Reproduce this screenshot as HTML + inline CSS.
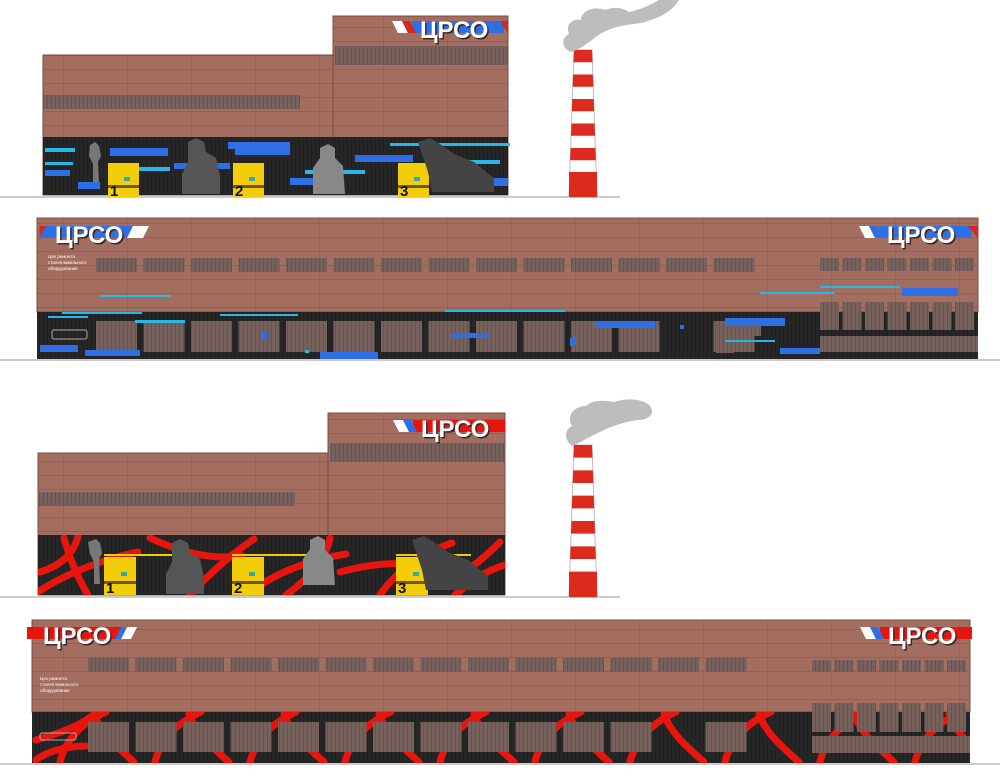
<!DOCTYPE html>
<html><head><meta charset="utf-8"><style>
html,body{margin:0;padding:0;background:#fff;width:1000px;height:784px;overflow:hidden}
svg{display:block}
.lg{font-family:"Liberation Sans","DejaVu Sans",sans-serif;font-weight:bold;fill:#fff}
</style></head><body>
<svg id="s" width="1000" height="784" viewBox="0 0 1000 784" xmlns="http://www.w3.org/2000/svg">
<defs>
<pattern id="pb" width="64" height="14" patternUnits="userSpaceOnUse"><rect width="64" height="14" fill="#a36d5f"/><rect y="13" width="64" height="1" fill="#93604f"/><rect x="63" width="1" height="14" fill="#946052" opacity=".5"/></pattern>
<pattern id="pw" width="4" height="14" patternUnits="userSpaceOnUse"><rect width="4" height="14" fill="#76615c"/><rect x="3" width="1" height="14" fill="#67544f"/></pattern>
<pattern id="pd" width="4" height="10" patternUnits="userSpaceOnUse"><rect width="4" height="10" fill="#262626"/><rect x="3" width="1" height="10" fill="#202020"/></pattern>
<clipPath id="c3"><rect x="38" y="535" width="467" height="60"/></clipPath>
<clipPath id="c4"><rect x="32" y="712" width="938" height="51"/></clipPath>
</defs>
<g id="g"></g>
</svg>
<script>
var g=document.getElementById('g'),h='';
function R(x,y,w,hh,f,ex){h+='<rect x="'+x+'" y="'+y+'" width="'+w+'" height="'+hh+'" fill="'+f+'" '+(ex||'')+'/>';}
function P(d,f,ex){h+='<path d="'+d+'" fill="'+f+'" '+(ex||'')+'/>';}
function T(x,y,s,t,ex){h+='<text x="'+x+'" y="'+y+'" font-size="'+s+'" '+(ex||'class="lg"')+'>'+t+'</text>';}
function logo(x,y,bar,ss,left){
  var w=74;
  if(left){R(x-16,y-17,w+28,12,bar);P('M'+(x+w+10)+' '+(y-17)+'l10 0l-6 12l-10 0z','#fff');P('M'+(x+w+4)+' '+(y-17)+'l6 0l-6 12l-6 0z',ss);}
  else{R(x-8,y-17,w+18,12,bar);P('M'+(x-28)+' '+(y-17)+'l10 0l6 12l-10 0z','#fff');P('M'+(x-18)+' '+(y-17)+'l8 0l6 12l-8 0z',ss);}
  T(x+1.5,y+1.5,24,'ЦРСО','font-family="Liberation Sans,sans-serif" font-weight="bold" fill="#3a2a2a"');
  T(x,y,24,'ЦРСО');
}
function chimney(x,top,bot){
  P('M'+(x+5)+' '+top+'L'+(x+23)+' '+top+'L'+(x+28)+' '+bot+'L'+x+' '+bot+'z','#fff','stroke="#bbb" stroke-width="1"');
  var n=6,seg=(bot-top)/n;
  for(var i=0;i<n;i++){var y=top+i*seg;var k=(y-top)/(bot-top);P('M'+(x+5-5*k)+' '+y+'l'+(18+10*k)+' 0l0.5 '+(seg*0.5)+'l-'+(19+10*k)+' 0z','#dc2a1e');}
  R(x,bot-25,28,25,'#dc2a1e');
}
function fac(x0,y0,x1,xm,ym,y1,yd,winL,winT){
  R(x0,y0,xm-x0,y1-y0,'url(#pb)','stroke="#7a4c42" stroke-width="1"');
  R(xm,ym,x1-xm,y1-ym,'url(#pb)','stroke="#7a4c42" stroke-width="1"');
  R(x0,winL,257,14,'url(#pw)');
  R(xm+2,winT,x1-xm-2,19,'url(#pw)');
  R(x0,yd,x1-x0,y1-yd,'url(#pd)');
}
var bl='#2f6fe6',cy='#28b8e8',rd='#e8150f';
// ===== Section 1 =====
fac(43,55,508,333,16,195,137,95,46);
R(0,196,620,2,'#ccc');
[[45,148,30,4],[110,148,58,8],[45,162,28,3],[45,170,25,6],[78,182,22,7],[228,142,62,7],[174,163,56,6],[235,148,55,7],[290,178,38,7],[355,155,58,7],[305,170,60,4],[390,143,120,3],[440,160,60,4],[490,178,18,8],[110,167,60,4]].forEach(function(a){R(a[0],a[1],a[2],a[3],a[3]<5?cy:bl);});
[[108,163],[233,163],[398,163]].forEach(function(d,i){R(d[0],d[1],31,34,'#f4cd0a');R(d[0],d[1]+22,31,3,'#6b5a10');T(d[0]+2,d[1]+33,15,String(i+1),'font-family="Liberation Sans,sans-serif" font-weight="bold" fill="#111"');R(d[0]+16,d[1]+14,6,4,'#3aa');});
P('M90 145l5-3 4 4 2 10-3 6 1 20-6 0 0-18-4-8z','#777');
P('M188 142l8-4 8 4 2 10 10 6 4 18 0 18-38 0 0-20 6-12z','#555');
P('M320 148l8-4 7 4 0 10 8 8 2 28-32 0 0-26 7-10z','#888');
P('M418 142l12-4 10 6 14 10 20 8 20 16 0 14-62 0-4-20z','#444');
chimney(569,50,197);
P('M571 52c-10-4-10-14-2-18c-4-10 4-16 12-14c0-10 14-14 24-10c10-4 18-2 24 2c10-2 20-6 30-12l20 0c-6 10-16 16-28 20c-10 4-20 4-30 6c-10 2-18 6-24 10c-8 6-14 12-26 16z','#bdbdbd');
logo(420,38,bl,'#d9261c',false);
P('M500 21l8 0l0 12z','#d9261c');
// ===== Section 2 =====
R(37,218,941,94,'url(#pb)','stroke="#7a4c42" stroke-width="1"');
R(37,312,941,48,'url(#pd)');
R(0,359,1000,2,'#ccc');
for(var i=0;i<14;i++){R(96+i*47.5,258,41,14,'url(#pw)');}
for(var i=0;i<7;i++){R(820+i*22.5,258,19,13,'url(#pw)');}
for(var i=0;i<14;i++){if(i==12)continue;R(96+i*47.5,321,41,31,'url(#pw)');}
R(716,321,45,15,'url(#pw)');
for(var i=0;i<7;i++){R(820+i*22.5,302,19,28,'url(#pw)');}
R(820,336,158,16,'url(#pw)');
R(716,343,18,10,'url(#pw)');
[[40,345,38,7],[85,350,55,6],[320,352,58,7],[262,332,5,8],[570,338,6,8],[450,333,40,5],[595,321,60,7],[680,325,4,4],[780,348,40,6],[902,288,56,8],[725,318,60,8],[135,320,50,3],[48,316,40,2],[62,312,80,2],[220,314,78,2],[445,310,120,2],[820,286,80,2],[760,292,75,2],[100,295,70,2],[725,340,50,2],[305,350,4,3]].forEach(function(a){R(a[0],a[1],a[2],a[3],a[3]<4?cy:bl);});
R(52,330,35,9,'none','stroke="#aaa" stroke-width="1" rx="2"');
T(48,258,4.5,'Цех ремонта','font-family="Liberation Sans,sans-serif" fill="#fff"');
T(48,264,4.5,'сталеплавильного','font-family="Liberation Sans,sans-serif" fill="#fff"');
T(48,270,4.5,'оборудования','font-family="Liberation Sans,sans-serif" fill="#fff"');
logo(55,243,bl,'#fff',true);
P('M40 226l6 0l-6 10z','#d9261c');
logo(887,243,bl,'#2f6fe6',false);
P('M968 226l10 0l0 12z','#d9261c');
// ===== Section 3 =====
fac(38,453,505,328,413,595,535,492,443);
R(0,596,620,2,'#ccc');
h+='<g clip-path="url(#c3)" fill="none" stroke="'+rd+'" stroke-width="7" stroke-linecap="round">';
['M40 572c20-6 34-18 38-36','M38 592c30-20 70-34 100-40','M64 538c6 22 14 40 24 57','M150 538c30 14 60 22 92 18','M190 595c20-22 40-40 64-56','M262 584c22-14 48-24 84-30','M330 538c-4 20-20 40-44 57','M340 572c30-8 60-12 92-4','M380 595c12-18 36-40 72-52','M500 542c-20 20-36 32-60 44','M455 595c20-16 30-24 50-30'].forEach(function(d){h+='<path d="'+d+'"/>';});
h+='</g>';
[[104,557],[232,557],[396,557]].forEach(function(d,i){R(d[0],d[1]-3,75,2,'#f4cd0a');R(d[0],d[1],32,38,'#f4cd0a');R(d[0],d[1]+24,32,3,'#6b5a10');T(d[0]+2,d[1]+36,15,String(i+1),'font-family="Liberation Sans,sans-serif" font-weight="bold" fill="#111"');R(d[0]+17,d[1]+15,6,4,'#3aa');});
P('M88 542l8-3 4 4 2 10-3 6 1 25-6 0 0-22-4-8z','#777');
P('M172 543l8-4 8 4 2 10 10 6 4 18 0 17-38 0 0-20 6-12z','#555');
P('M310 540l8-4 7 4 0 10 8 8 2 27-32 0 0-26 7-10z','#888');
P('M412 540l12-4 10 6 14 10 20 8 20 16 0 14-62 0-4-20z','#444');
chimney(569,445,597);
P('M572 446c-8-6-8-16 0-20c-6-10 2-20 14-20c6-6 18-6 28-4c12-4 28-4 36 4c6 8-2 14-12 14c-14 2-26 6-38 12c-10 4-18 10-28 14z','#bdbdbd');
logo(421,437,rd,bl,false);
// ===== Section 4 =====
R(32,620,938,92,'url(#pb)','stroke="#7a4c42" stroke-width="1"');
R(32,712,938,51,'url(#pd)');
R(0,763,1000,2,'#ccc');
h+='<g clip-path="url(#c4)" fill="none" stroke="'+rd+'" stroke-width="7" stroke-linecap="round">';
for(var i=0;i<10;i++){var x=60+i*95;h+='<path d="M'+x+' 762c6-24 24-40 46-50"/><path d="M'+(x+34)+' 714c6 18 22 32 40 48"/>';}
h+='<path d="M36 740c20-6 40-12 56-24"/><path d="M36 760c10-8 30-14 50-14"/>';
h+='</g>';
for(var i=0;i<14;i++){R(88+i*47.5,658,41,14,'url(#pw)');}
for(var i=0;i<7;i++){R(812+i*22.5,660,19,12,'url(#pw)');}
for(var i=0;i<14;i++){if(i==12)continue;R(88+i*47.5,722,41,30,'url(#pw)');}
R(706,730,12,8,'url(#pw)');R(725,742,12,8,'url(#pw)');
for(var i=0;i<7;i++){R(812+i*22.5,703,19,29,'url(#pw)');}
R(812,736,158,17,'url(#pw)');
R(40,733,36,7,'none','stroke="#aaa" stroke-width="1" rx="2"');
T(40,680,4.5,'Цех ремонта','font-family="Liberation Sans,sans-serif" fill="#fff"');
T(40,686,4.5,'сталеплавильного','font-family="Liberation Sans,sans-serif" fill="#fff"');
T(40,692,4.5,'оборудования','font-family="Liberation Sans,sans-serif" fill="#fff"');
logo(43,644,rd,bl,true);
logo(888,644,rd,bl,false);
g.innerHTML=h;
</script>
</body></html>
